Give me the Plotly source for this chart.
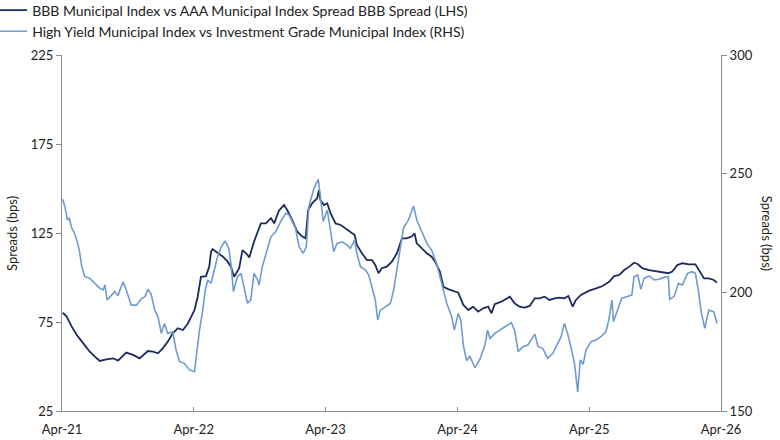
import plotly.graph_objects as go

# BBB vs AAA muni spread (left axis)
bbb_dates = [
    "2021-04-03", "2021-04-14", "2021-04-28", "2021-05-12", "2021-05-30", "2021-06-17", "2021-07-06",
    "2021-07-15", "2021-08-02", "2021-08-21", "2021-09-03", "2021-09-26", "2021-10-15", "2021-11-02",
    "2021-11-25", "2021-12-09", "2021-12-23", "2022-01-05", "2022-01-19", "2022-02-02", "2022-02-16",
    "2022-03-02", "2022-03-15", "2022-04-03", "2022-04-12", "2022-04-21", "2022-05-05", "2022-05-14",
    "2022-05-19", "2022-05-23", "2022-06-02", "2022-06-21", "2022-07-04", "2022-07-13", "2022-07-22",
    "2022-08-05", "2022-08-14", "2022-08-24", "2022-09-02", "2022-09-15", "2022-10-04", "2022-10-18",
    "2022-11-01", "2022-11-10", "2022-11-23", "2022-12-07", "2022-12-16", "2022-12-30", "2023-01-13",
    "2023-01-27", "2023-02-05", "2023-02-12", "2023-02-23", "2023-03-09", "2023-03-14", "2023-03-18",
    "2023-03-28", "2023-04-06", "2023-04-15", "2023-04-29", "2023-05-13", "2023-05-26", "2023-06-09",
    "2023-06-21", "2023-06-27", "2023-07-11", "2023-07-25", "2023-08-08", "2023-08-17", "2023-08-26",
    "2023-09-04", "2023-09-18", "2023-10-02", "2023-10-16", "2023-10-30", "2023-11-12", "2023-11-26",
    "2023-12-04", "2023-12-10", "2023-12-24", "2024-01-07", "2024-01-20", "2024-01-30", "2024-02-12",
    "2024-02-22", "2024-03-06", "2024-03-20", "2024-04-03", "2024-04-17", "2024-05-01", "2024-05-14",
    "2024-05-28", "2024-06-11", "2024-06-25", "2024-07-04", "2024-07-13", "2024-07-31", "2024-08-14",
    "2024-08-24", "2024-09-06", "2024-09-20", "2024-10-04", "2024-10-18", "2024-11-01", "2024-11-14",
    "2024-11-28", "2024-12-12", "2024-12-26", "2025-01-09", "2025-01-22", "2025-02-02", "2025-02-14",
    "2025-02-23", "2025-03-09", "2025-04-01", "2025-04-20", "2025-05-08", "2025-05-26", "2025-06-09",
    "2025-06-23", "2025-07-07", "2025-07-21", "2025-08-03", "2025-08-13", "2025-08-26", "2025-09-14",
    "2025-10-02", "2025-10-21", "2025-11-06", "2025-11-17", "2025-12-01", "2025-12-15", "2026-01-02",
    "2026-01-20", "2026-01-30", "2026-02-13", "2026-02-26", "2026-03-12", "2026-03-21",
]
bbb_spread = [
    80.2, 78.0, 72.4, 67.7, 63.0, 58.3, 54.6,
    53.1, 54.0, 54.6, 53.3, 57.8, 56.5, 54.6,
    58.7, 58.3, 57.4, 60.2, 63.9, 68.6, 71.5,
    70.5, 73.9, 81.7, 89.2, 100.4, 100.8, 106.1,
    114.5, 116.0, 114.5, 111.7, 108.9, 106.1, 100.4,
    105.2, 115.4, 113.6, 111.3, 120.1, 130.4, 130.4,
    133.3, 130.4, 137.5, 140.7, 137.9, 132.3, 125.7,
    123.0, 122.0, 137.9, 141.7, 144.5, 149.2, 143.5,
    140.7, 141.7, 136.1, 130.4, 129.5, 127.6, 125.7,
    123.9, 118.3, 113.6, 109.8, 109.8, 107.0, 102.4,
    105.2, 106.1, 108.9, 113.6, 122.0, 122.0, 123.0,
    124.8, 119.2, 116.4, 113.6, 111.7, 108.9, 103.3,
    94.8, 93.5, 92.6, 91.5, 84.6, 81.7, 83.6,
    80.8, 82.7, 83.6, 79.9, 85.0, 86.4, 88.3,
    89.2, 85.5, 83.6, 83.1, 84.0, 88.3, 88.3,
    89.2, 87.4, 88.3, 88.7, 88.3, 89.6, 83.6,
    87.4, 90.2, 92.6, 93.9, 95.2, 97.6, 100.8,
    101.4, 104.2, 106.1, 108.3, 107.6, 105.2, 104.2,
    103.6, 103.3, 102.4, 103.3, 107.0, 108.0, 107.4,
    107.4, 104.2, 99.5, 99.5, 98.6, 97.1,
]

# High yield vs investment grade muni spread (right axis)
hy_dates = [
    "2021-04-03", "2021-04-09", "2021-04-16", "2021-04-21", "2021-04-28", "2021-05-04", "2021-05-12",
    "2021-05-19", "2021-05-25", "2021-06-03", "2021-06-17", "2021-07-01", "2021-07-15", "2021-07-24",
    "2021-07-29", "2021-08-04", "2021-08-16", "2021-08-25", "2021-09-03", "2021-09-17", "2021-09-26",
    "2021-10-10", "2021-10-24", "2021-11-08", "2021-11-17", "2021-11-25", "2021-12-04", "2021-12-14",
    "2021-12-23", "2022-01-01", "2022-01-10", "2022-01-19", "2022-02-02", "2022-02-11", "2022-02-21",
    "2022-03-06", "2022-03-20", "2022-04-03", "2022-04-08", "2022-04-17", "2022-04-26", "2022-05-03",
    "2022-05-10", "2022-05-19", "2022-05-28", "2022-06-06", "2022-06-16", "2022-06-27", "2022-07-07",
    "2022-07-13", "2022-07-20", "2022-07-31", "2022-08-10", "2022-08-19", "2022-08-28", "2022-09-06",
    "2022-09-15", "2022-09-25", "2022-09-29", "2022-10-08", "2022-10-19", "2022-11-01", "2022-11-14",
    "2022-11-28", "2022-12-12", "2022-12-21", "2022-12-30", "2023-01-08", "2023-01-18", "2023-01-29",
    "2023-02-07", "2023-02-14", "2023-02-28", "2023-03-12", "2023-03-18", "2023-03-26", "2023-04-06",
    "2023-04-15", "2023-04-24", "2023-05-03", "2023-05-17", "2023-05-31", "2023-06-09", "2023-06-21",
    "2023-06-27", "2023-07-07", "2023-07-21", "2023-07-30", "2023-08-08", "2023-08-17", "2023-08-24",
    "2023-08-31", "2023-09-14", "2023-09-28", "2023-10-07", "2023-10-16", "2023-10-25", "2023-11-03",
    "2023-11-17", "2023-12-01", "2023-12-10", "2023-12-24", "2024-01-07", "2024-01-20", "2024-02-03",
    "2024-02-17", "2024-03-02", "2024-03-16", "2024-03-23", "2024-04-03", "2024-04-10", "2024-04-17",
    "2024-04-26", "2024-05-05", "2024-05-19", "2024-06-02", "2024-06-16", "2024-06-23", "2024-06-30",
    "2024-07-13", "2024-07-27", "2024-08-10", "2024-08-28", "2024-09-06", "2024-09-16", "2024-09-29",
    "2024-10-13", "2024-11-01", "2024-11-10", "2024-11-23", "2024-12-07", "2024-12-21", "2025-01-04",
    "2025-01-13", "2025-01-22", "2025-01-31", "2025-02-11", "2025-02-19", "2025-02-28", "2025-03-07",
    "2025-03-15", "2025-03-23", "2025-04-06", "2025-04-20", "2025-05-03", "2025-05-17", "2025-05-25",
    "2025-06-03", "2025-06-07", "2025-06-18", "2025-06-30", "2025-07-16", "2025-07-28", "2025-08-03",
    "2025-08-13", "2025-08-22", "2025-08-31", "2025-09-14", "2025-09-28", "2025-10-11", "2025-10-25",
    "2025-11-06", "2025-11-10", "2025-11-22", "2025-12-04", "2025-12-15", "2025-12-29", "2026-01-11",
    "2026-01-20", "2026-01-28", "2026-02-06", "2026-02-15", "2026-02-26", "2026-03-12", "2026-03-21",
]
hy_spread = [
    239.2, 236.1, 230.5, 231.2, 227.0, 225.5, 222.0,
    217.8, 211.5, 206.6, 205.9, 203.8, 201.7, 201.0,
    203.1, 196.8, 198.9, 200.3, 198.5, 204.5, 201.0,
    194.6, 194.6, 197.5, 198.2, 201.3, 199.3, 192.5,
    189.7, 182.7, 186.9, 182.7, 183.4, 175.7, 170.8,
    170.1, 167.3, 166.6, 172.9, 184.1, 192.5, 201.0,
    205.2, 203.8, 209.4, 215.0, 219.0, 221.7, 218.5,
    212.2, 200.3, 206.6, 208.0, 201.0, 195.4, 196.8,
    208.0, 205.2, 203.1, 210.8, 216.4, 223.4, 225.5,
    229.8, 233.3, 232.6, 229.8, 227.0, 219.2, 216.4,
    219.2, 236.1, 243.8, 247.6, 240.3, 229.8, 234.7,
    226.3, 217.1, 220.6, 221.3, 219.9, 218.5, 222.0,
    216.4, 210.8, 209.4, 207.3, 202.4, 196.8, 188.3,
    192.5, 193.9, 195.4, 201.0, 209.4, 219.2, 227.0,
    230.5, 236.4, 230.5, 225.5, 220.6, 217.8, 212.2,
    203.8, 195.4, 189.7, 184.1, 191.1, 188.3, 177.8,
    171.2, 173.2, 168.2, 171.8, 177.8, 184.1, 180.6,
    182.7, 184.1, 185.5, 187.2, 184.1, 175.0, 177.1,
    177.8, 182.4, 177.1, 176.4, 172.2, 174.3, 178.5,
    181.3, 186.9, 182.7, 175.7, 170.1, 158.0, 171.5,
    169.7, 175.7, 179.2, 179.9, 181.3, 183.4, 188.3,
    196.8, 187.6, 192.5, 197.5, 198.2, 198.9, 206.6,
    207.3, 201.3, 205.9, 206.9, 205.2, 205.5, 206.3,
    206.6, 197.0, 198.2, 203.8, 203.1, 208.0, 208.7,
    208.0, 201.0, 191.1, 184.8, 192.5, 191.8, 186.9,
]

tick_dates = ["2021-04-01", "2022-04-01", "2023-04-01", "2024-04-01", "2025-04-01", "2026-04-01"]
tick_labels = ["Apr-21", "Apr-22", "Apr-23", "Apr-24", "Apr-25", "Apr-26"]

NAVY = "#1c2b5e"
LIGHT = "#6e9bd0"
AXIS = "#8c8c8c"
FONT = "Lato, 'Open Sans', sans-serif"

fig = go.Figure()
fig.add_trace(go.Scatter(x=bbb_dates, y=bbb_spread, mode="lines",
                         name="BBB Municipal Index vs AAA Municipal Index Spread BBB Spread (LHS)",
                         line=dict(color=NAVY, width=1.8)))
fig.add_trace(go.Scatter(x=hy_dates, y=hy_spread, mode="lines", yaxis="y2",
                         name="High Yield Municipal Index vs Investment Grade Municipal Index (RHS)",
                         line=dict(color=LIGHT, width=1.6)))

fig.update_layout(
    width=780, height=440,
    margin=dict(l=62, r=59, t=55, b=29, autoexpand=False),
    paper_bgcolor="white", plot_bgcolor="white",
    font=dict(family=FONT, size=13, color="#222222"),
    showlegend=True,
    # legend up in the top margin; autoexpand is off so the plot area stays put
    legend=dict(x=-0.106, y=1.17, xanchor="left", yanchor="top",
                font=dict(size=14), itemwidth=30, tracegroupgap=0,
                bgcolor="rgba(0,0,0,0)"),
    xaxis=dict(type="date", range=["2021-04-01", "2026-04-01"],
               tickvals=tick_dates, ticktext=tick_labels,
               showgrid=False, zeroline=False, showline=True, linecolor=AXIS, linewidth=1,
               ticks="inside", ticklen=4, tickcolor=AXIS, tickfont=dict(size=13),
               ticklabelstandoff=6),
    yaxis=dict(range=[25, 225], tickvals=[25, 75, 125, 175, 225],
               showgrid=False, zeroline=False, showline=True, linecolor=AXIS, linewidth=1,
               ticks="outside", ticklen=5, tickcolor=AXIS, tickfont=dict(size=13)),
    yaxis2=dict(range=[150, 300], tickvals=[150, 200, 250, 300], overlaying="y", side="right",
                showgrid=False, zeroline=False, showline=True, linecolor=AXIS, linewidth=1,
                ticks="outside", ticklen=5, tickcolor=AXIS, tickfont=dict(size=13)),
    annotations=[
        dict(text="Spreads (bps)", xref="paper", yref="paper", x=-0.076, y=0.5,
             xanchor="center", yanchor="middle", textangle=-90, showarrow=False,
             font=dict(size=13)),
        dict(text="Spreads (bps)", xref="paper", yref="paper", x=1.07, y=0.5,
             xanchor="center", yanchor="middle", textangle=90, showarrow=False,
             font=dict(size=13)),
    ],
)

# drop the default page margin so the 780x440 figure fills the window exactly
fig.write_html("out.html", config={"displayModeBar": False},
               post_script="document.body.style.margin='0px';")
